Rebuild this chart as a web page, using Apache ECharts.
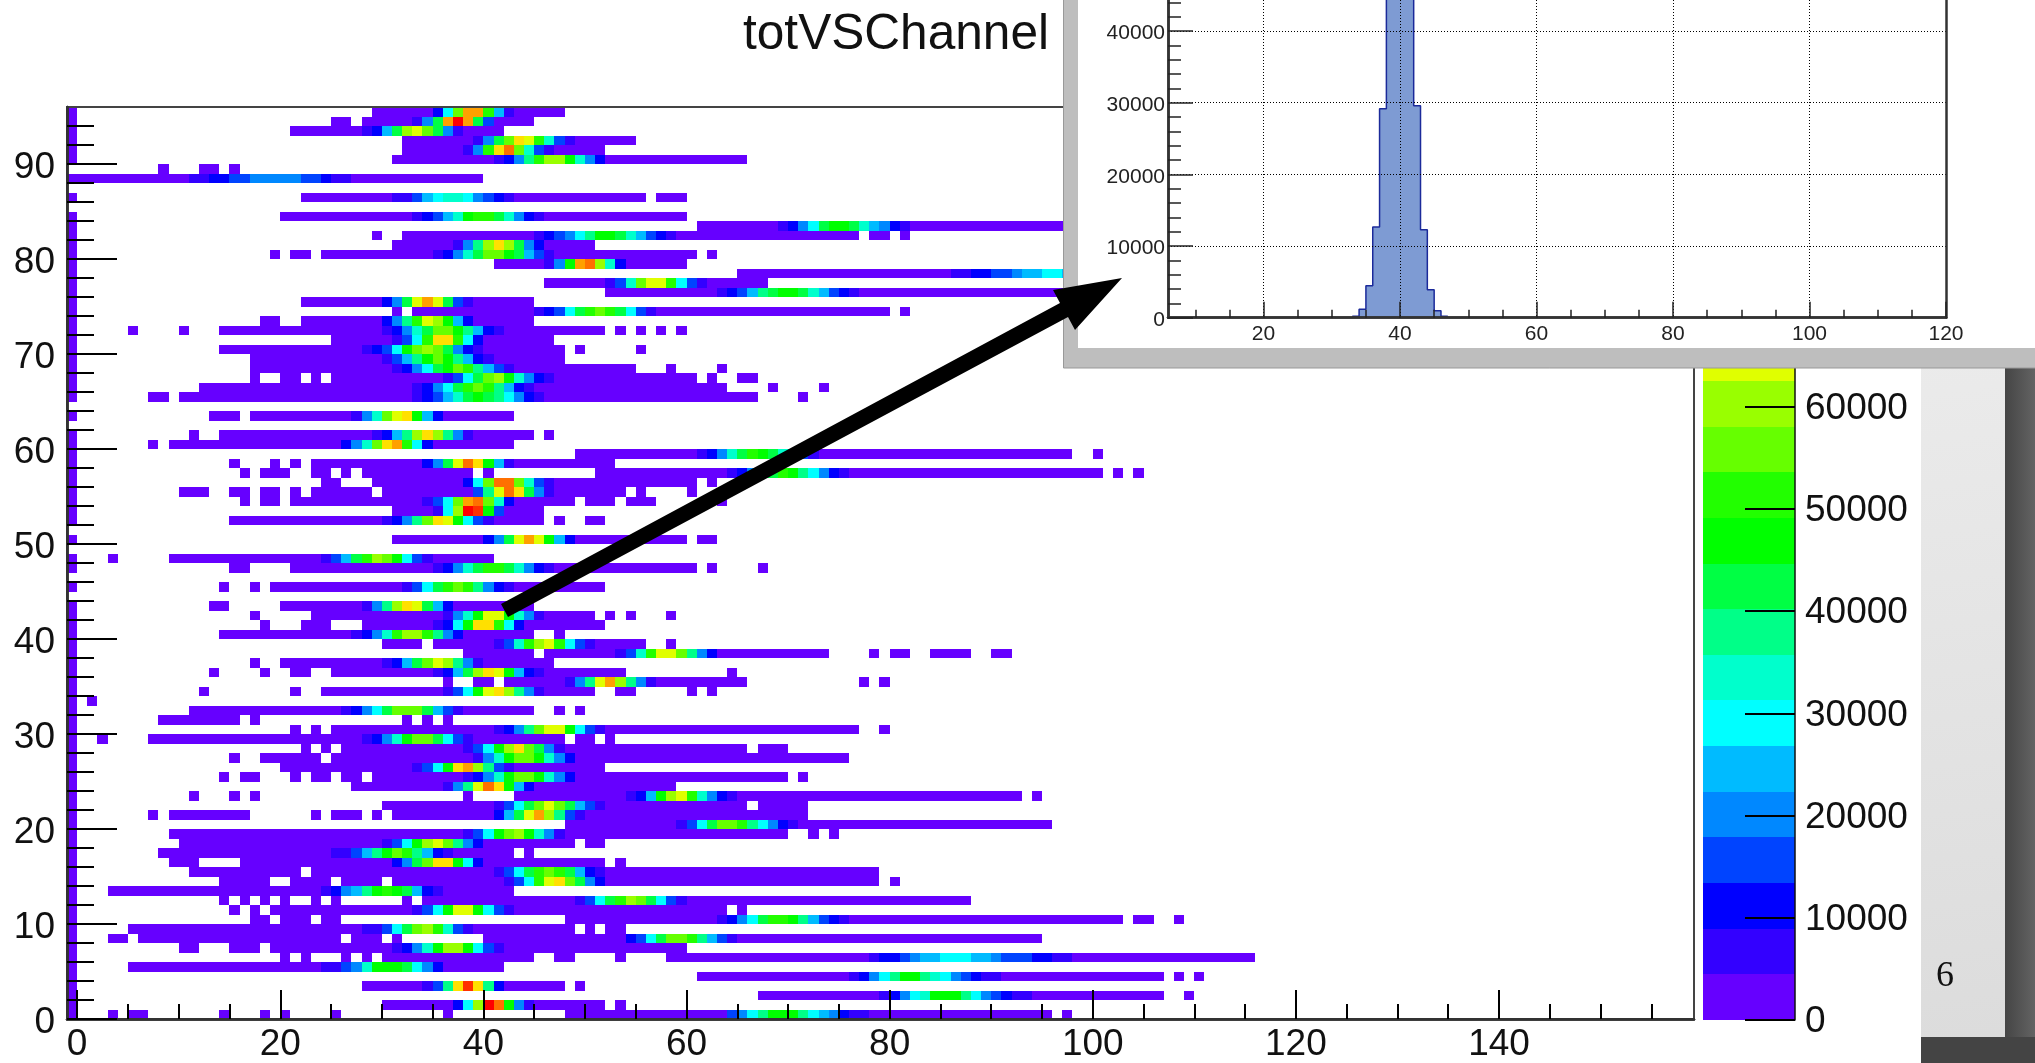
<!DOCTYPE html>
<html><head><meta charset="utf-8">
<style>html,body{margin:0;padding:0;background:#fff}#c{width:2035px;height:1063px}</style>
<script src="https://cdn.jsdelivr.net/npm/echarts@6/dist/echarts.min.js"></script>
</head><body><div id="c"></div>
<script>
// Palette of the colour scale, bottom (0 counts) to top
const palette = ['#6600ff','#3300ff','#0000ff','#0044ff','#0088ff','#00bbff','#00ffff','#00ffcc','#00ff88','#00ff44','#00ff00','#22ff00','#66ff00','#99ff00','#e0ff00','#ffe000','#ffa000','#ff7000','#ff3000','#ff0000'];
const levelStep = 4467; // counts per colour band

// Occupied bins per channel row (index = channel). number = one bin, pair = inclusive range
const occupiedBins = [
/*0*/[3,[5,6],14,18,20,25,36,[48,95],97],
/*1*/[[30,51],53],
/*2*/[[67,106],109],
/*3*/[[28,47],49],
/*4*/[[61,106],108,110],
/*5*/[[5,41]],
/*6*/[20,22,26,28,[30,44],47,48,53,[58,115]],
/*7*/[10,11,15,16,17,[19,59]],
/*8*/[3,4,[6,25],27,28,29,31,[40,94]],
/*9*/[[5,48],50,52,53],
/*10*/[17,18,20,21,22,24,25,[48,102],104,105,108],
/*11*/[15,17,[19,63],65],
/*12*/[14,16,18,20,23,25,32,[34,87]],
/*13*/[[3,42]],
/*14*/[[14,18],[21,24],[26,29],[31,78],80],
/*15*/[[11,21],[23,78]],
/*16*/[[9,11],[16,51],53],
/*17*/[[8,42],44],
/*18*/[[10,48],50,51],
/*19*/[[9,69],72,74],
/*20*/[[48,95]],
/*21*/[7,[9,16],23,[25,27],29,[31,71]],
/*22*/[[30,65],[67,71]],
/*23*/[11,15,17,38,[43,92],94],
/*24*/[[27,58]],
/*25*/[14,16,17,21,23,24,26,27,[29,69],71],
/*26*/[[20,51]],
/*27*/[15,[18,23],[25,75]],
/*28*/[22,24,[26,65],[67,69]],
/*29*/[2,[7,47],49,50,52],
/*30*/[21,23,[25,76],79],
/*31*/[[8,15],17,32,34,36],
/*32*/[[11,44],47,49],
/*33*/[1],
/*34*/[12,21,[24,50],53,54,60,62],
/*35*/[36,39,40,[42,65],77,79],
/*36*/[13,18,21,22,[25,53],64],
/*37*/[17,[20,46]],
/*38*/[[38,44],[46,73],78,80,81,[84,87],90,91],
/*39*/[[30,33],[35,55],58],
/*40*/[[14,44],47],
/*41*/[18,[22,24],[28,51]],
/*42*/[17,[23,50],52,54,58],
/*43*/[13,14,[20,44]],
/*44*/[],
/*45*/[14,17,[19,51]],
/*46*/[],
/*47*/[15,16,[21,60],62,67],
/*48*/[3,[9,40]],
/*49*/[],
/*50*/[[31,59],61,62],
/*51*/[],
/*52*/[[15,45],47,50,51],
/*53*/[[31,45]],
/*54*/[16,18,19,[21,48],[50,52],[54,56],63],
/*55*/[[10,12],15,16,18,19,21,[23,28],[30,53],55,60],
/*56*/[24,25,[29,60],62],
/*57*/[16,[18,20],23,24,26,[28,38],40,[51,100],102,104],
/*58*/[15,19,21,[23,52]],
/*59*/[[49,97],100],
/*60*/[7,[9,42]],
/*61*/[11,[14,44],46],
/*62*/[],
/*63*/[[13,15],[17,42]],
/*64*/[],
/*65*/[7,8,[10,66],71],
/*66*/[[12,63],68,73],
/*67*/[17,20,21,23,[25,60],62,65,66],
/*68*/[[17,54],58,63],
/*69*/[[17,47]],
/*70*/[[14,47],49,55],
/*71*/[[25,46]],
/*72*/[5,10,[14,51],53,55,57,59],
/*73*/[18,19,[22,44]],
/*74*/[31,[33,79],81],
/*75*/[[22,44]],
/*76*/[[52,108]],
/*77*/[[46,67]],
/*78*/[[65,108]],
/*79*/[[41,59]],
/*80*/[19,21,22,[24,60],62],
/*81*/[[31,50]],
/*82*/[29,[32,76],78,79,81],
/*83*/[[61,108]],
/*84*/[[20,59]],
/*85*/[],
/*86*/[[22,55],[57,59]],
/*87*/[],
/*88*/[[-1,39]],
/*89*/[8,12,13,15],
/*90*/[[31,65]],
/*91*/[[32,51]],
/*92*/[[32,54]],
/*93*/[[21,41]],
/*94*/[25,26,[28,44]],
/*95*/[[29,47]]
];

// Rows where the underflow bin (-1) is empty
const emptyFirstBinRows = [44,46,49,51,62,64,85,87,89];

// Peak of every row: [first bin, colour levels of consecutive bins]
const peakBins = [
/*0*/[64,[3,4,6,8,10,10,10,8,6,5,4,2,1,1]],
/*1*/[37,[2,6,13,19,17,10,4,1]],
/*2*/[79,[1,2,4,6,7,10,10,10,8,6,4,3,2,1,1]],
/*3*/[34,[1,3,8,15,18,15,8,2]],
/*4*/[76,[1,2,4,6,8,10,10,8,7,6,4,3,2,1,1]],
/*5*/[24,[1,1,3,4,7,10,10,10,9,6,4,2]],
/*6*/[78,[1,2,2,3,4,5,5,6,6,6,5,5,4,3,3,3,2,2,1,1]],
/*7*/[31,[1,2,4,7,10,13,13,10,6,3,1]],
/*8*/[54,[2,3,6,9,12,12,11,8,5,3,1]],
/*9*/[28,[1,1,3,6,9,12,13,11,7,3,1]],
/*10*/[63,[1,2,4,6,9,11,11,10,8,5,3,2,1]],
/*11*/[33,[1,3,6,10,14,14,10,6,3,1]],
/*12*/[49,[1,3,6,9,11,13,12,9,6,3,1]],
/*13*/[24,[1,2,4,5,8,10,11,10,9,5,2,1]],
/*14*/[42,[1,3,6,11,14,15,12,9,4,2]],
/*15*/[41,[1,3,6,9,11,12,11,9,5,2,1]],
/*16*/[31,[2,4,9,12,15,15,10,6,2]],
/*17*/[25,[1,1,3,5,8,10,12,11,8,5,2,1]],
/*18*/[30,[1,3,6,10,13,14,12,8,4,2]],
/*19*/[38,[1,3,6,10,12,13,10,7,4,1]],
/*20*/[59,[1,3,6,9,12,12,11,8,6,4,2,1]],
/*21*/[41,[2,5,9,14,16,13,8,3,1]],
/*22*/[41,[1,3,6,9,12,14,12,9,5,3,1]],
/*23*/[54,[1,2,5,10,13,14,11,7,4,2,1]],
/*24*/[36,[1,4,8,14,17,15,10,5,2]],
/*25*/[38,[1,2,4,7,10,12,12,10,7,4,2]],
/*26*/[33,[1,3,6,10,15,16,13,8,3,1]],
/*27*/[39,[1,4,7,10,12,12,10,7,4,2]],
/*28*/[38,[1,3,6,10,13,15,12,9,4,1]],
/*29*/[28,[1,2,4,7,10,12,12,9,6,3,1]],
/*30*/[41,[1,2,4,8,12,14,14,10,6,3,1]],
/*31*/null,
/*32*/[26,[1,2,4,6,9,12,12,12,9,5,3,1]],
/*33*/null,
/*34*/[36,[1,3,6,10,14,15,13,8,4,1]],
/*35*/[48,[1,4,8,14,16,13,8,4,1]],
/*36*/[35,[1,2,5,9,13,15,14,10,5,2,1]],
/*37*/[30,[1,2,5,9,12,14,13,8,4,1]],
/*38*/[53,[1,3,7,11,14,14,12,8,4,2]],
/*39*/[41,[1,3,7,11,13,14,11,6,3,1]],
/*40*/[27,[1,2,4,7,11,13,13,11,8,4,2]],
/*41*/[35,[1,2,6,10,15,15,11,6,2]],
/*42*/[36,[1,4,7,10,14,14,10,7,4,1]],
/*43*/[28,[1,4,8,13,15,14,9,5,2]],
/*44*/null,
/*45*/[32,[1,3,6,9,11,12,11,8,4,2,1]],
/*46*/null,
/*47*/[35,[1,2,4,7,9,11,11,9,7,4,2,1]],
/*48*/[24,[1,3,5,9,11,13,12,10,6,3,1]],
/*49*/null,
/*50*/[40,[2,4,9,14,16,14,10,5,2]],
/*51*/null,
/*52*/[30,[1,2,4,8,12,15,14,10,6,3,1]],
/*53*/[35,[1,6,13,19,18,10,3]],
/*54*/[34,[1,3,6,12,16,17,12,7,2]],
/*55*/[39,[3,8,14,17,15,9,4,1]],
/*56*/[38,[2,6,12,17,17,12,7,3,1]],
/*57*/[64,[1,2,4,7,9,11,10,8,6,4,2,1]],
/*58*/[34,[2,4,9,14,17,15,10,5,1]],
/*59*/[61,[1,2,4,7,9,11,10,9,7,5,3,1]],
/*60*/[26,[2,4,7,12,15,16,11,6,2]],
/*61*/[29,[1,2,5,8,13,15,13,8,4,1]],
/*62*/null,
/*63*/[27,[1,4,7,12,14,15,10,5,2]],
/*64*/null,
/*65*/[33,[1,2,3,5,7,9,10,9,8,6,4,2,1]],
/*66*/[33,[1,2,4,6,9,11,12,11,8,5,2,1]],
/*67*/[36,[1,3,6,9,12,13,10,7,4,2,1]],
/*68*/[31,[1,2,4,6,9,10,12,11,8,5,3,1]],
/*69*/[30,[1,3,5,8,10,12,10,8,5,2,1]],
/*70*/[28,[1,2,3,6,10,12,13,12,9,4,2,1]],
/*71*/[31,[1,3,6,11,15,15,11,6,2]],
/*72*/[30,[1,2,4,7,9,12,12,10,8,5,2,1]],
/*73*/[30,[2,4,8,11,14,13,10,5,2]],
/*74*/[45,[1,2,3,6,9,11,12,11,9,6,3,1]],
/*75*/[30,[2,4,9,14,16,14,9,3,1]],
/*76*/[63,[1,2,3,5,8,9,10,10,9,7,5,3,2,1]],
/*77*/[52,[1,3,7,12,14,14,11,6,3,1]],
/*78*/[86,[1,1,2,2,3,3,4,5,5,6,6,5,4,3,2,1]],
/*79*/[46,[1,4,10,16,17,13,7,2]],
/*80*/[35,[1,2,4,7,9,12,12,10,9,5,3,1]],
/*81*/[37,[1,4,8,13,15,13,9,4,2]],
/*82*/[45,[1,2,3,4,6,8,10,10,9,7,5,3,2,1]],
/*83*/[69,[1,2,4,6,9,10,10,9,7,5,4,2,1]],
/*84*/[33,[1,2,3,5,7,10,11,11,9,7,4,2,1]],
/*85*/null,
/*86*/[31,[1,1,3,5,6,7,7,6,4,3,2,1]],
/*87*/null,
/*88*/[11,[1,1,2,2,3,3,4,4,4,4,4,3,3,2,1,1]],
/*89*/null,
/*90*/[41,[1,2,4,8,11,13,13,10,7,4,2]],
/*91*/[38,[1,4,11,15,17,12,7,3,1]],
/*92*/[39,[1,4,9,12,15,14,11,7,3,1]],
/*93*/[28,[1,2,5,9,13,14,12,9,4,1]],
/*94*/[33,[1,4,9,16,19,16,9,3]],
/*95*/[35,[2,6,12,16,16,11,5,1]]
];

// Axis ticks
const mainXMajor = [0,20,40,60,80,100,120,140];
const mainXMinor = [5,10,15,25,30,35,45,50,55,65,70,75,85,90,95,105,110,115,125,130,135,145,150,155];
const mainYMajor = [0,10,20,30,40,50,60,70,80,90];
const mainYMinor = [2,4,6,8,12,14,16,18,22,24,26,28,32,34,36,38,42,44,46,48,52,54,56,58,62,64,66,68,72,74,76,78,82,84,86,88,92,94];
const barTicks = [0,10000,20000,30000,40000,50000,60000,70000,80000];

// Inset histogram: one channel projected
const histBinEdges = [33,34,35,36,37,38,39,40,41,42,43,44,45,46,47];
const histCounts =   [200,1170,4470,12660,29170,58000,74000,74000,58000,29590,12280,3910,980,190,0];
const insetXMajor = [20,40,60,80,100,120];
const insetXMinor = [10,15,25,30,35,45,50,55,65,70,75,85,90,95,105,110,115];
const insetYMajor = [0,10000,20000,30000,40000];
const insetYMinor = [2000,4000,6000,8000,12000,14000,16000,18000,22000,24000,26000,28000,32000,34000,36000,38000,42000,44000];
const insetYMax = 44340;

// Build cells
const cells = [];
occupiedBins.forEach((bins, row) => {
  const lv = new Map();
  if (!emptyFirstBinRows.includes(row)) lv.set(-1, 0);
  bins.forEach(b => {
    if (Array.isArray(b)) { for (let c = b[0]; c <= b[1]; c++) lv.set(c, 0); }
    else lv.set(b, 0);
  });
  const pk = peakBins[row];
  if (pk) pk[1].forEach((l, i) => lv.set(pk[0] + i, l));
  lv.forEach((l, c) => cells.push([c, row, (l + 0.5) * levelStep]));
});
const bands = palette.map((c, i) => [0, i * levelStep, (i + 0.5) * levelStep]);

const FONT = '"Liberation Sans", Arial, sans-serif';
const plain = v => String(v);
const axisBase = {type:'value', axisLine:{onZero:false, lineStyle:{color:'#333', width:2.5}}, splitLine:{show:false}};
const hidden = (o) => Object.assign({type:'value', show:false, splitLine:{show:false}}, o);
const chart = echarts.init(document.getElementById('c'), null, {renderer:'canvas'});
const MAIN_X_MAX = 159.2;

chart.setOption({
  animation:false,
  backgroundColor:'#ffffff',
  title:{text:'totVSChannel', left:738, top:5, textStyle:{fontFamily:FONT, fontSize:49.6, fontWeight:'normal', color:'#111'}},
  grid:[
    {left:67, top:107, width:1627, height:913, show:true, borderColor:'#444', borderWidth:2, backgroundColor:'transparent', z:6},
    {left:1168, top:0, width:778, height:317.7, show:false, z:30},
    {left:1703, top:107, width:92, height:913, show:false, z:3}
  ],
  xAxis:[
    Object.assign({}, axisBase, {gridIndex:0, min:-1, max:MAIN_X_MAX, position:'bottom', z:7,
      axisTick:{show:true, inside:true, length:29, customValues:mainXMajor, lineStyle:{color:'#000', width:2}},
      axisLabel:{customValues:mainXMajor, margin:7, fontFamily:FONT, fontSize:37, color:'#111'}}),
    Object.assign({}, axisBase, {gridIndex:0, min:-1, max:MAIN_X_MAX, position:'bottom', z:7,
      axisTick:{show:true, inside:true, length:15, customValues:mainXMinor, lineStyle:{color:'#000', width:2}},
      axisLabel:{show:false}}),
    Object.assign({}, axisBase, {gridIndex:1, min:6, max:120, position:'bottom', z:31,
      splitLine:{show:true, lineStyle:{color:'#000', type:[1,2], width:1}},
      axisTick:{show:true, inside:true, length:16, customValues:insetXMajor, lineStyle:{color:'#222', width:1.5}},
      axisLabel:{customValues:insetXMajor, margin:6, fontFamily:FONT, fontSize:21, color:'#222'}}),
    Object.assign({}, axisBase, {gridIndex:1, min:6, max:120, position:'bottom', z:31,
      axisTick:{show:true, inside:true, length:8, customValues:insetXMinor, lineStyle:{color:'#222', width:1.5}},
      axisLabel:{show:false}}),
    hidden({gridIndex:2, min:0, max:1})
  ],
  yAxis:[
    Object.assign({}, axisBase, {gridIndex:0, min:0, max:96, position:'left', z:7,
      axisTick:{show:true, inside:true, length:50, customValues:mainYMajor, lineStyle:{color:'#000', width:2}},
      axisLabel:{customValues:mainYMajor, margin:12, verticalAlign:'top', lineHeight:8, fontFamily:FONT, fontSize:37, color:'#111'}}),
    Object.assign({}, axisBase, {gridIndex:0, min:0, max:96, position:'left', z:7,
      axisTick:{show:true, inside:true, length:27, customValues:mainYMinor, lineStyle:{color:'#000', width:2}},
      axisLabel:{show:false}}),
    Object.assign({}, axisBase, {gridIndex:1, min:0, max:insetYMax, position:'left', z:31,
      splitLine:{show:true, lineStyle:{color:'#000', type:[1,2], width:1}},
      axisTick:{show:true, inside:true, length:25, customValues:insetYMajor, lineStyle:{color:'#222', width:1.5}},
      axisLabel:{customValues:insetYMajor, formatter:plain, margin:3, verticalAlign:'top', lineHeight:5, fontFamily:FONT, fontSize:21, color:'#222'}}),
    Object.assign({}, axisBase, {gridIndex:1, min:0, max:insetYMax, position:'left', z:31,
      axisTick:{show:true, inside:true, length:13, customValues:insetYMinor, lineStyle:{color:'#222', width:1.5}},
      axisLabel:{show:false}}),
    Object.assign({}, axisBase, {gridIndex:2, min:0, max:levelStep*20, position:'right', z:7,
      axisLine:{onZero:false, lineStyle:{color:'#111', width:1.5}},
      axisTick:{show:true, inside:true, length:50, customValues:barTicks, lineStyle:{color:'#000', width:2}},
      axisLabel:{customValues:barTicks, formatter:plain, margin:10, verticalAlign:'top', lineHeight:4, fontFamily:FONT, fontSize:37, color:'#111'}}),
    Object.assign({}, axisBase, {gridIndex:1, min:0, max:insetYMax, position:'right', z:31,
      axisTick:{show:false}, axisLabel:{show:false}})
  ],
  visualMap:{type:'piecewise', show:false, seriesIndex:[0,1], dimension:2,
    pieces:palette.map((c,i)=>({min:i*levelStep, max:(i+1)*levelStep, color:c}))},
  series:[
    {type:'custom', xAxisIndex:0, yAxisIndex:0, z:2, silent:true, dimensions:['x','y','z'], encode:{x:0,y:1},
     data:cells,
     renderItem:(p,api)=>{
       const a=api.coord([api.value(0),api.value(1)]), b=api.coord([api.value(0)+1,api.value(1)+1]);
       const x0=Math.round(a[0]),x1=Math.round(b[0]),y0=Math.round(b[1]),y1=Math.round(a[1]);
       return {type:'rect',shape:{x:x0,y:y0,width:x1-x0,height:y1-y0},style:{fill:api.visual('color')}};
     }},
    {type:'custom', xAxisIndex:4, yAxisIndex:4, z:2, silent:true, dimensions:['x','y','z'], encode:{x:0,y:1},
     data:bands,
     renderItem:(p,api)=>{
       const a=api.coord([0,api.value(1)]), b=api.coord([1,api.value(1)+levelStep]);
       const y0=Math.round(b[1]),y1=Math.round(a[1]);
       return {type:'rect',shape:{x:a[0],y:y0,width:b[0]-a[0],height:y1-y0},style:{fill:api.visual('color')}};
     }},
    {type:'line', xAxisIndex:2, yAxisIndex:2, z:30, step:'end', symbol:'none', silent:true,
     lineStyle:{color:'#1b2a9a', width:1.5}, areaStyle:{color:'#7e9bd3', opacity:1},
     data:histBinEdges.map((e,i)=>[e,histCounts[i]])}
  ],
  graphic:[
    // slide background behind the plot
    {type:'rect', z:1, silent:true, shape:{x:2005,y:300,width:30,height:763},
     style:{fill:new echarts.graphic.LinearGradient(0,0,1,0,[{offset:0,color:'#454545'},{offset:1,color:'#636363'}])}},
    {type:'rect', z:1, silent:true, shape:{x:1921,y:1037,width:114,height:26}, style:{fill:'#444444'}},
    {type:'rect', z:1, silent:true, shape:{x:1921,y:300,width:84,height:737},
     style:{fill:new echarts.graphic.LinearGradient(0,0,1,1,[{offset:0,color:'#ececec'},{offset:1,color:'#dcdcdc'}])}},
    {type:'text', z:2, silent:true, style:{text:'6', x:1936, y:959, fontFamily:'"Liberation Serif", serif', fontSize:36, fill:'#111'}},
    // inset window
    {type:'rect', z:25, silent:true, shape:{x:1063.5,y:-10,width:990,height:378}, style:{fill:'#bebebe', stroke:'#999', lineWidth:1}},
    {type:'rect', z:26, silent:true, shape:{x:1078,y:-10,width:970,height:358}, style:{fill:'#ffffff'}},
    // arrow
    {type:'polygon', z:40, silent:true, shape:{points:[[501,604],[1060,303],[1053,290],[1122,278],[1075,330],[1068,317],[508,617]]}, style:{fill:'#000'}}
  ]
});
</script></body></html>
